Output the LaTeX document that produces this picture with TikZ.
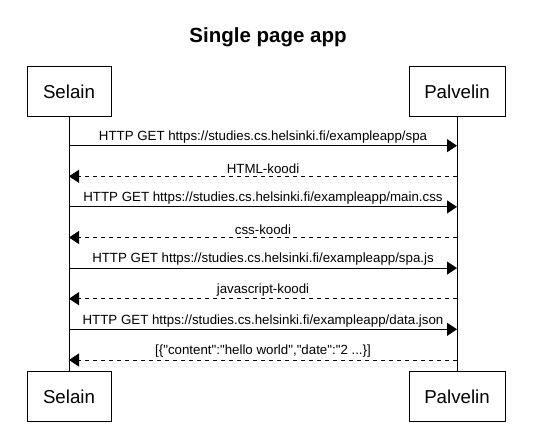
\documentclass[tikz,border=0pt]{standalone}
\usepackage{fontspec}
\setmainfont{Liberation Sans}
\usetikzlibrary{arrows.meta}
\newcommand{\q}{\textquotedbl}
\tikzset{
  actor/.style={draw, line width=1pt, minimum width=84pt, minimum height=50pt, inner sep=0pt, font=\fontsize{18.7}{21}\selectfont},
  msg/.style={line width=1pt, -{Triangle[length=10pt,width=13pt]}},
  reply/.style={msg, dash pattern=on 4pt off 4pt},
  msgtext/.style={font=\fontsize{13.3}{15}\selectfont, inner sep=0pt, above=2pt}
}
\begin{document}
\begin{tikzpicture}[x=1pt,y=-1pt]
\useasboundingbox (0,0) rectangle (556,427);
\node[font=\bfseries\fontsize{20.5}{23}\selectfont] (title) at (268,37) {Single page app};
\node[actor] (selA) at (69,92) {Selain};
\node[actor, minimum width=96pt] (palA) at (457,92) {Palvelin};
\node[actor] (selB) at (69,396.5) {Selain};
\node[actor, minimum width=96pt] (palB) at (457,396.5) {Palvelin};
\draw[line width=1pt] (selA) -- (selB);
\draw[line width=1pt] (palA) -- (palB);
% messages
\foreach \i/\y/\s/\t in {1/145.7/msg/{HTTP GET https://studies.cs.helsinki.fi/exampleapp/spa},
                       2/176.3/reply/{HTML-koodi},
                       3/206.9/msg/{HTTP GET https://studies.cs.helsinki.fi/exampleapp/main.css},
                       4/237.5/reply/{css-koodi},
                       5/268.1/msg/{HTTP GET https://studies.cs.helsinki.fi/exampleapp/spa.js},
                       6/298.7/reply/{javascript-koodi},
                       7/329.3/msg/{HTTP GET https://studies.cs.helsinki.fi/exampleapp/data.json},
                       8/360/reply/{[\{\q content\q:\q hello world\q,\q date\q:\q 2 ...\}]}}{
  \coordinate (s\i) at (69,\y);
  \coordinate (p\i) at (457,\y);
  \ifodd\i
    \draw[\s] (s\i) -- node[msgtext] {\t} (p\i);
  \else
    \draw[\s] (p\i) -- node[msgtext] {\t} (s\i);
  \fi
}
\end{tikzpicture}
\end{document}
